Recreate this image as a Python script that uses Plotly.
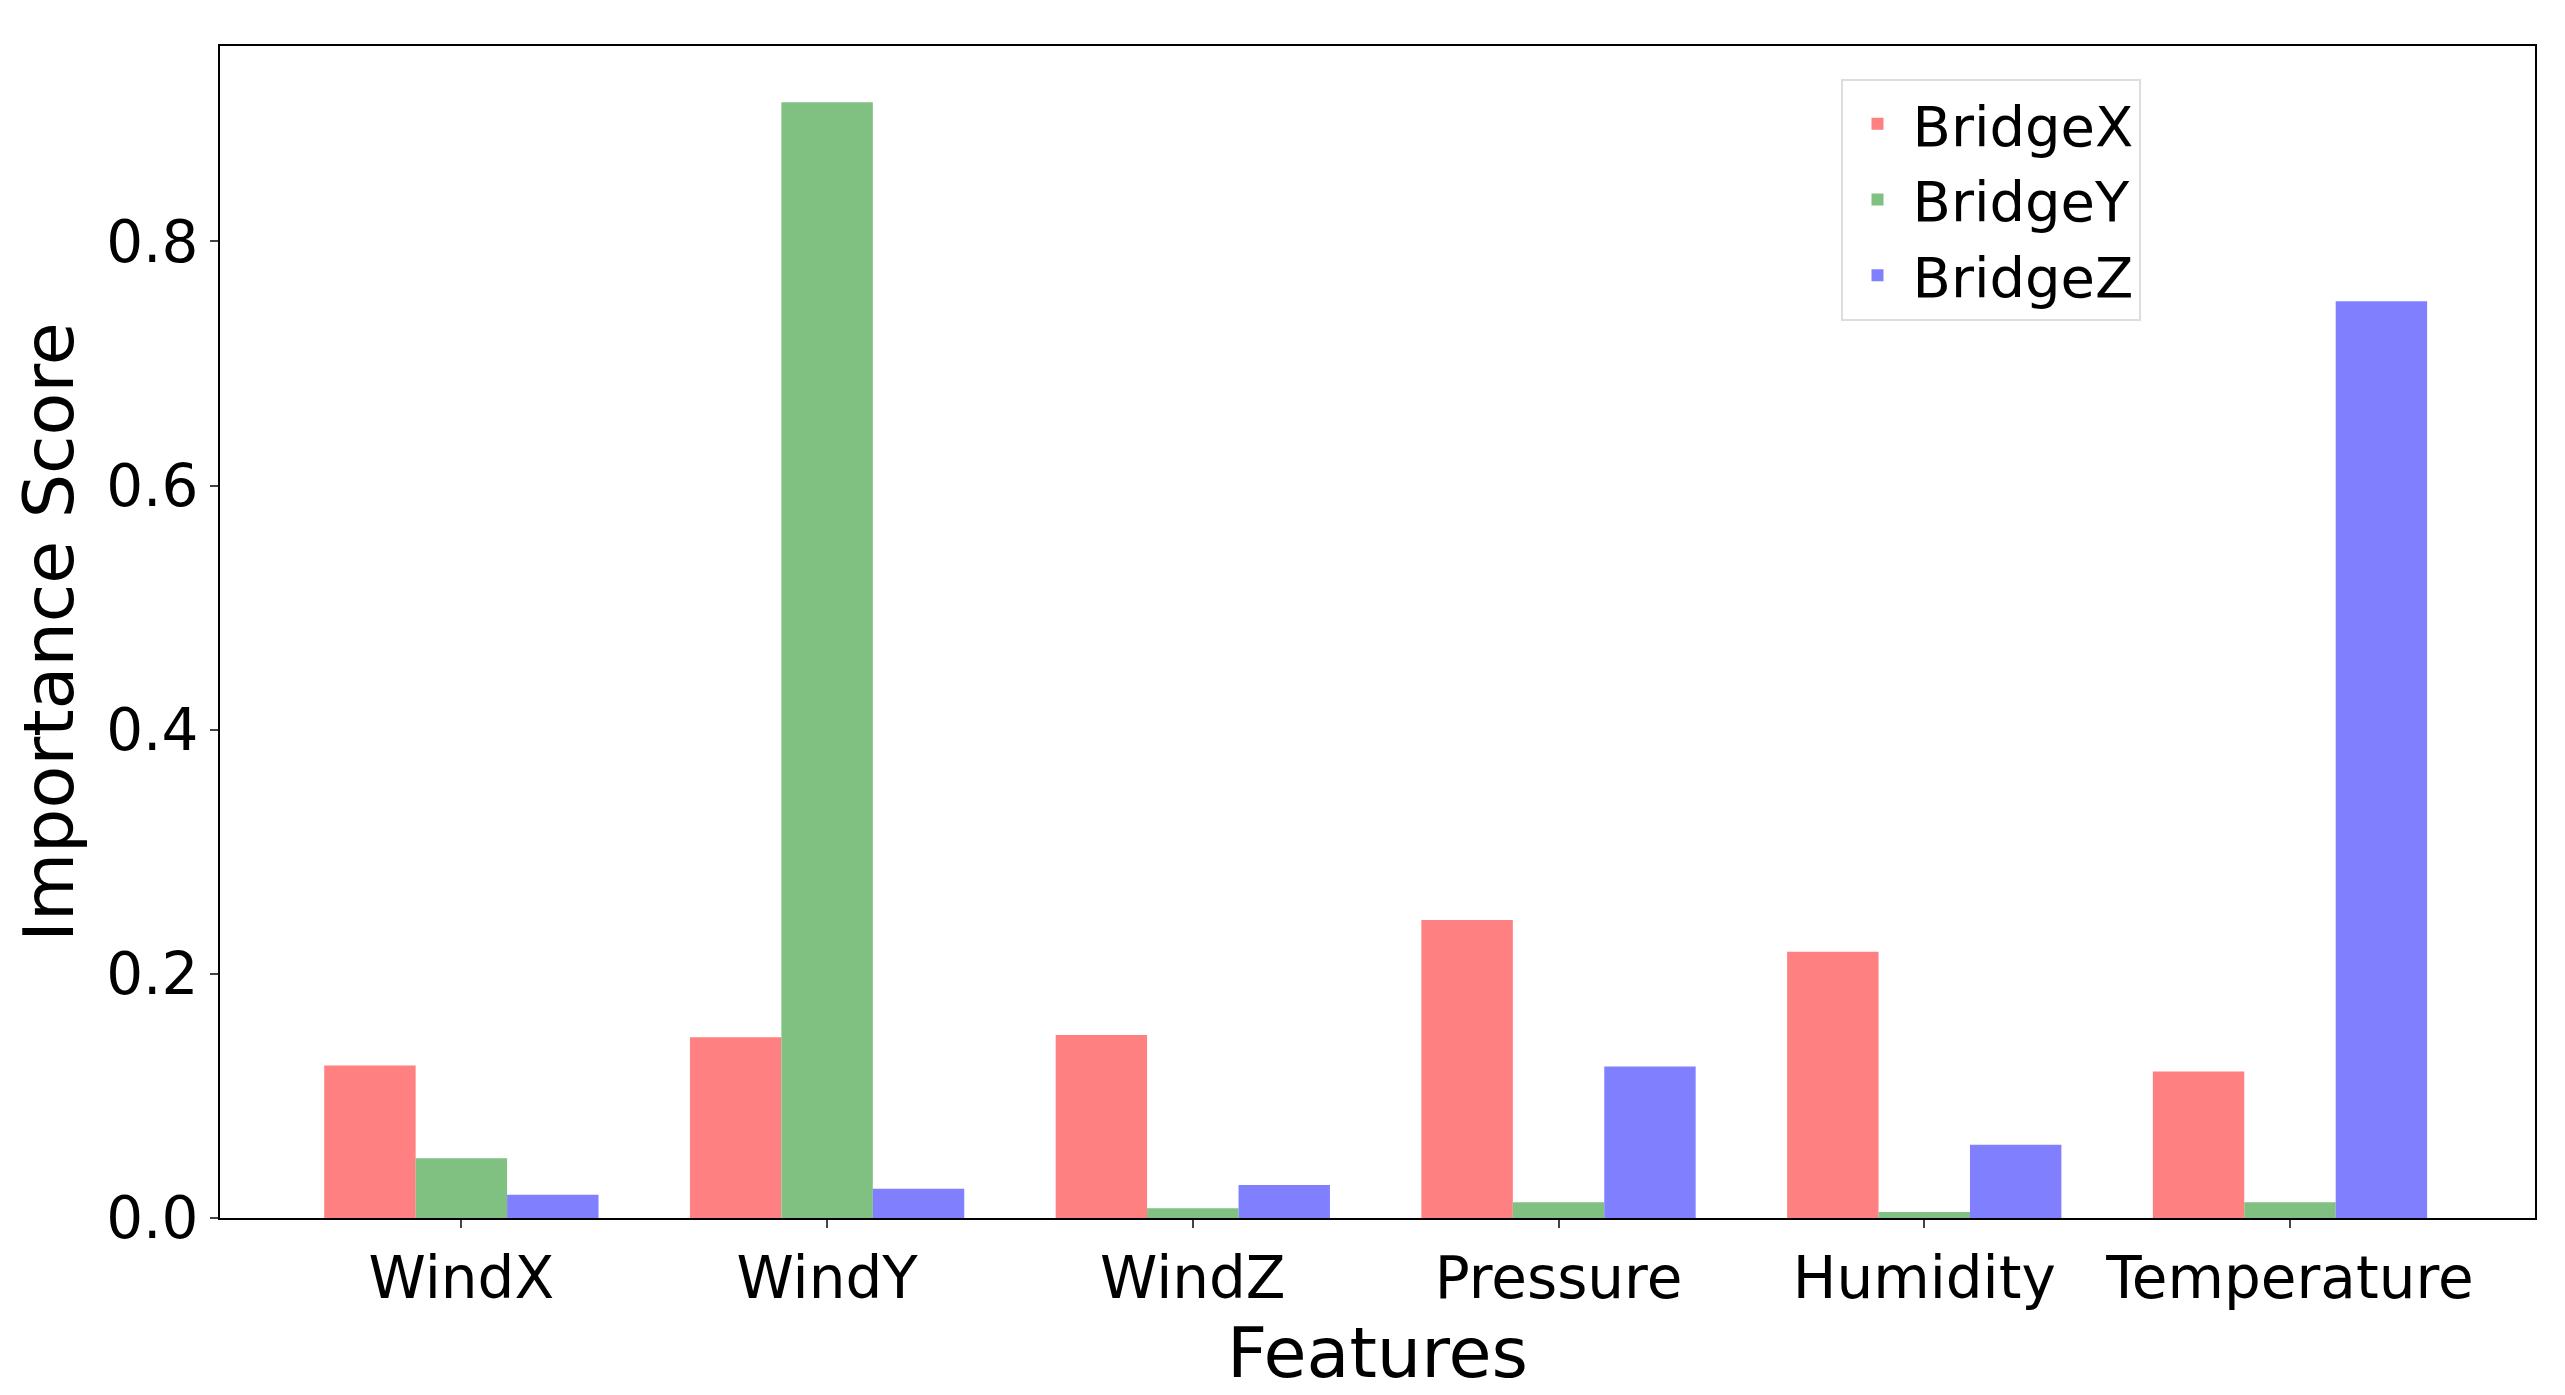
import plotly.graph_objects as go

features = ["WindX", "WindY", "WindZ", "Pressure", "Humidity", "Temperature"]
bridge_x = [0.125, 0.148, 0.150, 0.244, 0.218, 0.120]
bridge_y = [0.049, 0.914, 0.008, 0.013, 0.005, 0.013]
bridge_z = [0.019, 0.024, 0.027, 0.124, 0.060, 0.751]

series = [("BridgeX", bridge_x, "#ff8080"),
          ("BridgeY", bridge_y, "#80c080"),
          ("BridgeZ", bridge_z, "#8080ff")]

fig = go.Figure()
for name, vals, col in series:
    fig.add_trace(go.Bar(x=features, y=vals, name=name, marker_color=col,
                         marker_line_width=0))

font = "DejaVu Sans"
fig.update_layout(
    width=2565, height=1395,
    barmode="group", bargap=0.25, bargroupgap=0,
    paper_bgcolor="white", plot_bgcolor="white",
    margin=dict(l=212, r=38, t=38, b=185),
    font=dict(family=font, size=58, color="black"),
    legend=dict(x=0.70, y=0.972, xanchor="left", yanchor="top",
                bgcolor="white", bordercolor="#dddddd", borderwidth=2,
                font=dict(size=56), itemwidth=60),
    xaxis=dict(title=dict(text="Features", standoff=0), range=[-0.66, 5.67],
               showline=True, linecolor="black", linewidth=2, mirror=True,
               ticks="outside", ticklen=8, tickwidth=2, showgrid=False),
    yaxis=dict(title=dict(text="Importance Score", standoff=20), range=[0, 0.96],
               tickvals=[0, 0.2, 0.4, 0.6, 0.8], ticktext=["0.0", "0.2", "0.4", "0.6", "0.8"],
               showline=True, linecolor="black", linewidth=2, mirror=True,
               ticks="outside", ticklen=8, tickwidth=2, showgrid=False, zeroline=False),
)
fig.write_html("out.html")
